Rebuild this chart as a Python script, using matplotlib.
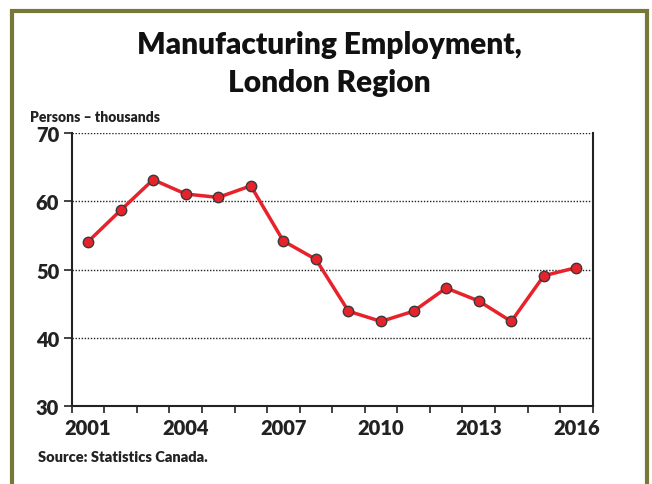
import matplotlib
matplotlib.use("Agg")
import matplotlib.pyplot as plt
from matplotlib.patches import Rectangle

plt.rcParams['font.family'] = ['Lato', 'DejaVu Sans']

years = list(range(2001, 2017))
employment = [54.1, 58.7, 63.2, 61.1, 60.6, 62.3, 54.2, 51.5,
              43.9, 42.4, 43.9, 47.3, 45.4, 42.4, 49.1, 50.3]
year_labels = ["2001", "2004", "2007", "2010", "2013", "2016"]
y_ticks = [30, 40, 50, 60, 70]

fig = plt.figure(figsize=(6.52, 4.85), dpi=100)
ax = fig.add_axes([0.110, 0.161, 0.799, 0.562])

x = list(range(len(years)))

# dotted grid lines
for v in y_ticks[1:]:
    ax.axhline(v, color='#222222', linestyle=(0, (1, 1.2)), linewidth=1.0, zorder=1)

ax.plot(x, employment, color='#e8222a', linewidth=2.5, marker='o', markersize=7.5,
        markerfacecolor='#e8222a', markeredgecolor='#3a3a3a', markeredgewidth=1.0, zorder=3)

ax.set_xlim(-0.5, len(years) - 0.5)
ax.set_ylim(30, 70)

# category axis: ticks between years, labels every third year
ax.set_xticks([i - 0.5 for i in range(len(years) + 1)])
ax.set_xticklabels([])
ax.set_xticks([0, 3, 6, 9, 12, 15], minor=True)
ax.set_xticklabels(year_labels, minor=True)
ax.tick_params(axis='x', which='major', direction='out', length=5, width=1.2, color='#222222')
ax.tick_params(axis='x', which='minor', length=0, pad=9, labelsize=14.5, labelcolor='#222222')
for t in ax.get_xticklabels(minor=True):
    t.set_fontweight('heavy')

ax.set_yticks(y_ticks)
ax.tick_params(axis='y', direction='out', length=6, width=1.2, color='#222222',
               labelsize=14.5, labelcolor='#222222', pad=3)
for t in ax.get_yticklabels():
    t.set_fontweight('heavy')

for side in ['left', 'bottom', 'right']:
    ax.spines[side].set_linewidth(1.5)
    ax.spines[side].set_color('#222222')
ax.spines['top'].set_visible(False)

fig.text(0.505, 0.907, "Manufacturing Employment,", ha='center', va='center',
         fontsize=21.5, fontweight='heavy', color='#111111')
fig.text(0.505, 0.829, "London Region", ha='center', va='center',
         fontsize=21.5, fontweight='heavy', color='#111111')
fig.text(0.046, 0.757, "Persons \u2013 thousands", ha='left', va='center',
         fontsize=10, fontweight='heavy', color='#222222')
fig.text(0.058, 0.057, "Source: Statistics Canada.", ha='left', va='center',
         fontsize=10.5, fontweight='heavy', color='#222222')

# olive frame around the whole chart
fig.patches.append(Rectangle((12 / 652, -0.05), 635 / 652, 1.05 - 12 / 485,
                             transform=fig.transFigure, fill=False,
                             edgecolor='#77773a', linewidth=3))

fig.savefig("out.png", dpi=100)
